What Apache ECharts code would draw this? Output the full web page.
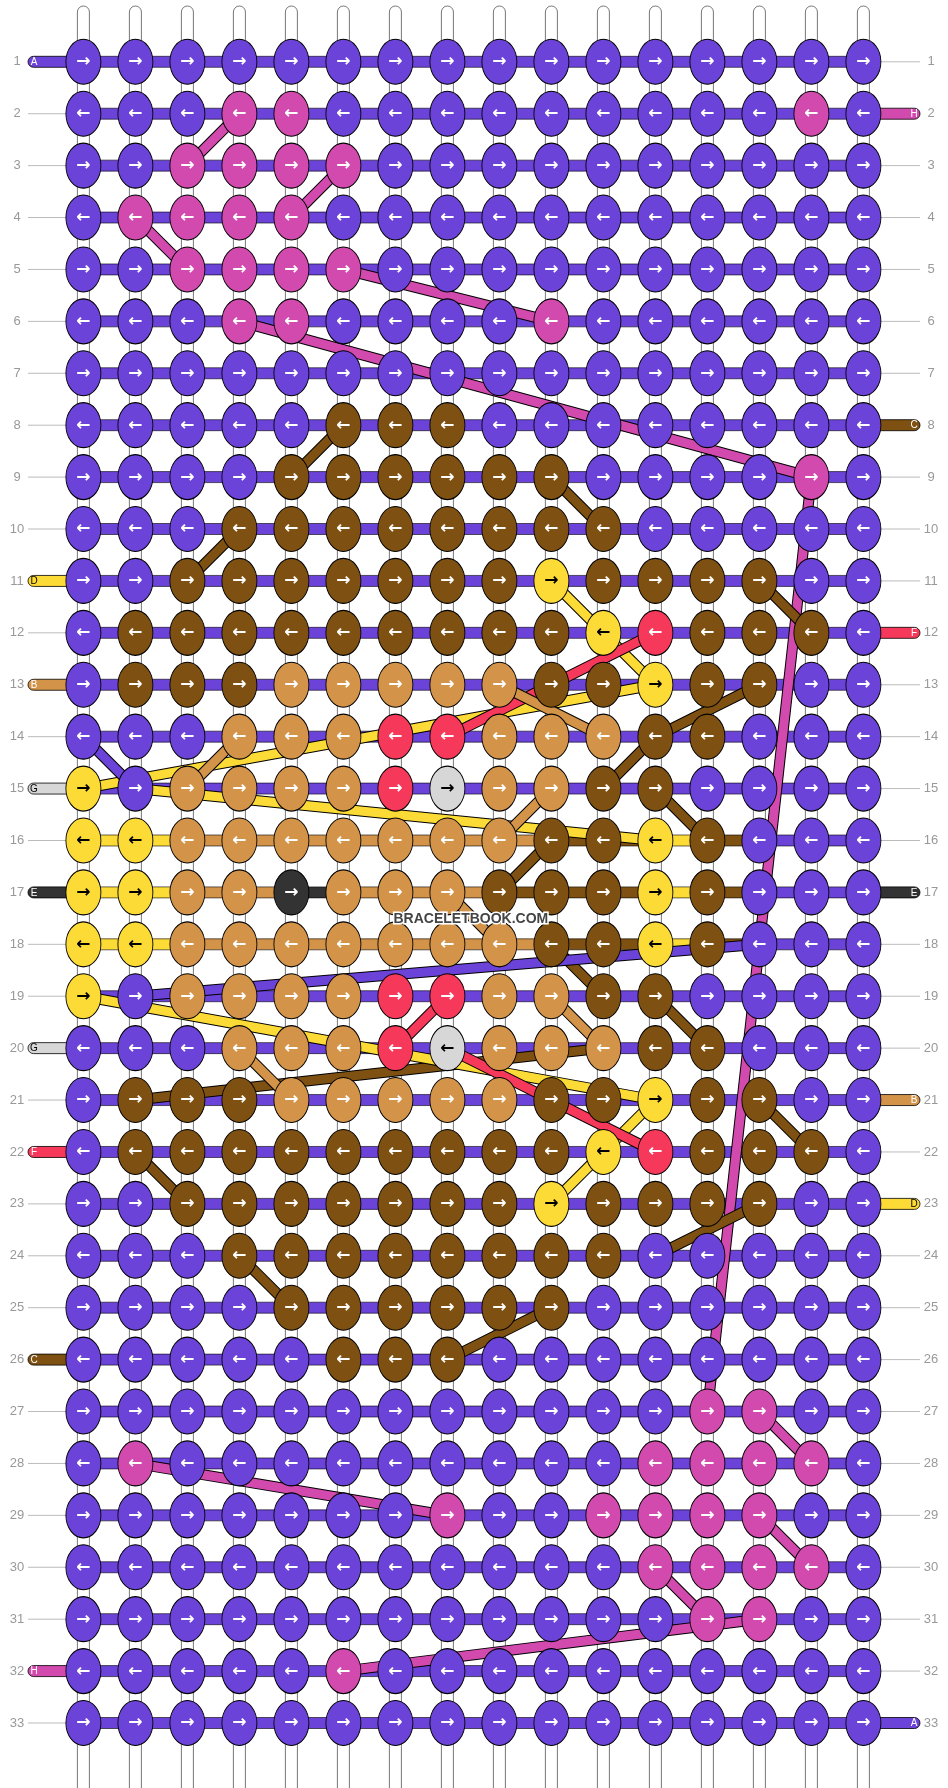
<!DOCTYPE html>
<html>
<head>
<meta charset="utf-8">
<script src="https://cdn.jsdelivr.net/npm/echarts@6/dist/echarts.min.js"></script>
<style>
  html, body { margin: 0; padding: 0; background: #fff; }
  #chart { width: 948px; height: 1788px; }
</style>
</head>
<body>
<div id="chart"></div>
<script>
// knot colours, one string per row, one letter per column
var rows = [
  'AAAAAAAAAAAAAAAA',
  'AAAHHAAAAAAAAAHA',
  'AAHHHHAAAAAAAAAA',
  'AHHHHAAAAAAAAAAA',
  'AAHHHHAAAAAAAAAA',
  'AAAHHAAAAHAAAAAA',
  'AAAAAAAAAAAAAAAA',
  'AAAAACCCAAAAAAAA',
  'AAAACCCCCCAAAAHA',
  'AAACCCCCCCCAAAAA',
  'AACCCCCCCDCCCCAA',
  'ACCCCCCCCCDFCCCA',
  'ACCCBBBBBCCDCCAA',
  'AAABBBFFBBBCCAAA',
  'DABBBBFGBBCCAAAA',
  'DDBBBBBBBCCDCAAA',
  'DDBBEBBBCCCDCAAA',
  'DDBBBBBBBCCDCAAA',
  'DABBBBFFBBCCAAAA',
  'AAABBBFGBBBCCAAA',
  'ACCCBBBBBCCDCCAA',
  'ACCCCCCCCCDFCCCA',
  'AACCCCCCCDCCCCAA',
  'AAACCCCCCCCAAAAA',
  'AAAACCCCCCAAAAAA',
  'AAAAACCCAAAAAAAA',
  'AAAAAAAAAAAAHHAA',
  'AHAAAAAAAAAHHHHA',
  'AAAAAAAHAAHHHHAA',
  'AAAAAAAAAAAHHHHA',
  'AAAAAAAAAAAAHHAA',
  'AAAAAHAAAAAAAAAA',
  'AAAAAAAAAAAAAAAA'
];

var palette = {
  A: '#6b43d9', H: '#d24aae', C: '#7e5112', D: '#fddb36',
  F: '#f6385a', B: '#d3944a', G: '#d7d7d7', E: '#333333'
};

// thread ends entering at the sides: [row, letter]
var leftTabs = [[1, 'A'], [11, 'D'], [13, 'B'], [15, 'G'], [17, 'E'], [20, 'G'], [22, 'F'], [26, 'C'], [32, 'H']];
var rightTabs = [[2, 'H'], [8, 'C'], [12, 'F'], [17, 'E'], [21, 'B'], [23, 'D'], [33, 'A']];

// threads crossing between knots: [col1, row1, col2, row2, letter]
var threads = [
  [4, 2, 3, 3, 'H'], [6, 3, 5, 4, 'H'], [2, 4, 3, 5, 'H'], [6, 5, 10, 6, 'H'],
  [4, 6, 15, 9, 'H'], [15, 9, 13, 27, 'H'],
  [6, 8, 5, 9, 'C'], [10, 9, 11, 10, 'C'], [4, 10, 3, 11, 'C'], [14, 11, 15, 12, 'C'],
  [14, 13, 12, 14, 'C'], [12, 14, 11, 15, 'C'], [12, 15, 13, 16, 'C'], [10, 16, 9, 17, 'C'],
  [10, 18, 11, 19, 'C'], [12, 19, 13, 20, 'C'], [14, 21, 15, 22, 'C'], [2, 22, 3, 23, 'C'],
  [4, 24, 5, 25, 'C'], [12, 24, 14, 23, 'C'], [10, 25, 8, 26, 'C'], [2, 21, 11, 20, 'C'],
  [10, 11, 11, 12, 'D'], [11, 12, 12, 13, 'D'], [12, 13, 1, 15, 'D'], [2, 15, 12, 16, 'D'],
  [1, 19, 12, 21, 'D'], [12, 21, 11, 22, 'D'], [11, 22, 10, 23, 'D'],
  [12, 12, 8, 14, 'F'], [8, 19, 7, 20, 'F'], [8, 20, 12, 22, 'F'],
  [9, 13, 11, 14, 'B'], [4, 14, 3, 15, 'B'], [10, 15, 9, 16, 'B'], [8, 17, 9, 18, 'B'],
  [10, 19, 11, 20, 'B'], [4, 20, 5, 21, 'B'],
  [1, 14, 2, 15, 'A'], [2, 19, 14, 18, 'A'],
  [2, 28, 8, 29, 'H'], [14, 27, 15, 28, 'H'], [14, 29, 15, 30, 'H'], [12, 30, 13, 31, 'H'],
  [14, 31, 6, 32, 'H']
];

var nRows = rows.length, nCols = 16;
var rowNums = [];
for (var r = 1; r <= nRows; r++) rowNums.push(r);
var colNums = [];
for (var c = 1; c <= nCols; c++) colNums.push(c);

var knots = [];
rows.forEach(function (s, i) {
  for (var j = 0; j < s.length; j++) {
    var k = s[j];
    var light = (k === 'D' || k === 'G');
    knots.push({
      value: [j + 1, i + 1],
      itemStyle: { color: palette[k] },
      label: { color: light ? '#000' : '#fff' },
      arrow: (i % 2 === 0) ? '→' : '←'
    });
  }
});

var leftMap = {}, rightMap = {};
leftTabs.forEach(function (t) { leftMap[t[0]] = t[1]; });
rightTabs.forEach(function (t) { rightMap[t[0]] = t[1]; });

var chart = echarts.init(document.getElementById('chart'), null, { renderer: 'canvas' });

chart.setOption({
  animation: false,
  backgroundColor: '#fff',
  grid: { left: 83.4, right: 84.6, top: 61.8, bottom: 65 },
  xAxis: { type: 'value', min: 1, max: 16, show: false },
  yAxis: { type: 'value', min: 1, max: 33, inverse: true, show: false },
  series: [
    // vertical strings
    {
      type: 'custom', clip: false, z: 1,
      data: colNums,
      renderItem: function (params, api) {
        var p = api.coord([api.value(0), 1]);
        return {
          type: 'rect',
          shape: { x: p[0] - 6, y: 6, width: 12, height: 1800, r: 6 },
          style: { fill: '#fff', stroke: '#777', lineWidth: 1 }
        };
      }
    },
    // row bars, side tabs and row numbers
    {
      type: 'custom', clip: false, z: 2,
      data: rowNums,
      renderItem: function (params, api) {
        var r = api.value(0);
        var s = rows[r - 1];
        var ch = [];
        var p1 = api.coord([1, r]);
        var p16 = api.coord([16, r]);
        for (var j = 1; j < nCols; j++) {
          var a = api.coord([j, r]), b = api.coord([j + 1, r]);
          var col = palette.A;
          if (r >= 16 && r <= 18 && s[j - 1] !== 'A') col = palette[s[j - 1]];
          ch.push({ type: 'rect', shape: { x: a[0], y: a[1] - 5.5, width: b[0] - a[0], height: 11 },
            style: { fill: col, stroke: '#000', lineWidth: 0.6 } });
        }
        ch.push({ type: 'text', x: 17, y: p1[1], style: { text: String(r), fill: '#999',
          font: '13px "Liberation Sans", Arial', align: 'center', verticalAlign: 'middle' } });
        ch.push({ type: 'text', x: 931, y: p1[1], style: { text: String(r), fill: '#999',
          font: '13px "Liberation Sans", Arial', align: 'center', verticalAlign: 'middle' } });
        if (leftMap[r]) {
          var k = leftMap[r];
          ch.push({ type: 'rect', shape: { x: 28, y: p1[1] - 5.5, width: p1[0] - 28, height: 11, r: [5.5, 0, 0, 5.5] },
            style: { fill: palette[k], stroke: '#000', lineWidth: 0.8 } });
          ch.push({ type: 'text', x: 34, y: p1[1] + 0.5, style: { text: k, fill: (k === 'D' || k === 'G') ? '#000' : '#fff',
            font: '10px "Liberation Sans", Arial', align: 'center', verticalAlign: 'middle' } });
        } else {
          ch.push({ type: 'line', shape: { x1: 28, y1: p1[1], x2: p1[0] - 10, y2: p1[1] }, style: { stroke: '#bbb', lineWidth: 1 } });
        }
        if (rightMap[r]) {
          var k2 = rightMap[r];
          ch.push({ type: 'rect', shape: { x: p16[0], y: p16[1] - 5.5, width: 920 - p16[0], height: 11, r: [0, 5.5, 5.5, 0] },
            style: { fill: palette[k2], stroke: '#000', lineWidth: 0.8 } });
          ch.push({ type: 'text', x: 914, y: p16[1] + 0.5, style: { text: k2, fill: (k2 === 'D' || k2 === 'G') ? '#000' : '#fff',
            font: '10px "Liberation Sans", Arial', align: 'center', verticalAlign: 'middle' } });
        } else {
          ch.push({ type: 'line', shape: { x1: p16[0] + 10, y1: p16[1], x2: 920, y2: p16[1] }, style: { stroke: '#bbb', lineWidth: 1 } });
        }
        return { type: 'group', children: ch };
      }
    },
    // diagonal threads
    {
      type: 'custom', clip: false, z: 3,
      data: threads,
      renderItem: function (params, api) {
        var t = threads[params.dataIndex];
        var a = api.coord([t[0], t[1]]), b = api.coord([t[2], t[3]]);
        return { type: 'group', children: [
          { type: 'line', shape: { x1: a[0], y1: a[1], x2: b[0], y2: b[1] }, style: { stroke: '#000', lineWidth: 11 } },
          { type: 'line', shape: { x1: a[0], y1: a[1], x2: b[0], y2: b[1] }, style: { stroke: palette[t[4]], lineWidth: 9 } }
        ] };
      }
    },
    // knots
    {
      type: 'scatter', z: 4,
      symbol: 'circle', symbolSize: [35, 45],
      itemStyle: { borderColor: '#000', borderWidth: 1, opacity: 1 },
      label: {
        show: true, position: 'inside', fontSize: 17, fontWeight: 'bold',
        fontFamily: 'DejaVu Sans',
        formatter: function (p) { return knots[p.dataIndex].arrow; }
      },
      data: knots
    }
  ],
  graphic: [{
    type: 'text', left: 392, top: 911, z: 100,
    style: { text: 'BRACELETBOOK.COM', fill: '#444', stroke: '#fff', lineWidth: 3,
      font: 'bold 14px "Liberation Sans Narrow", "Liberation Sans", Arial' }
  }]
});
</script>
</body>
</html>
